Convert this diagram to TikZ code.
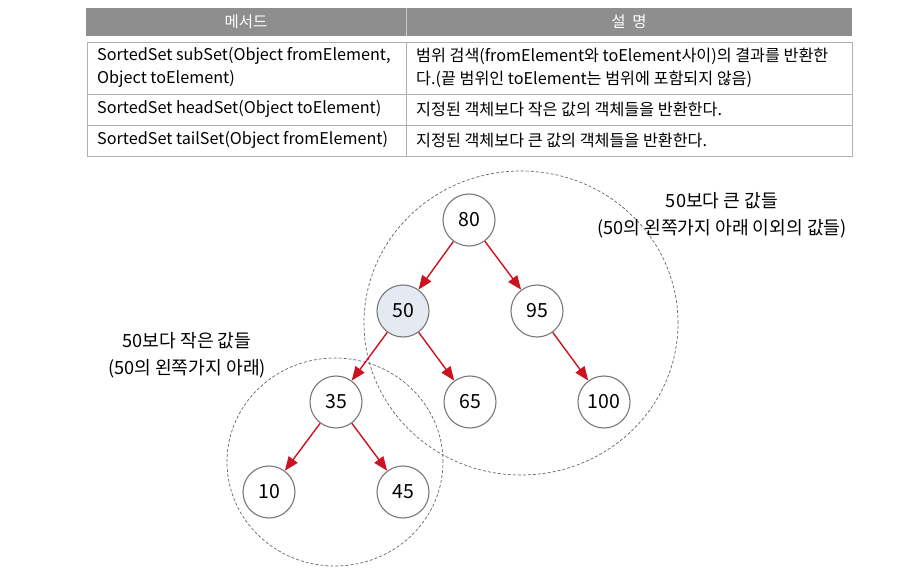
\documentclass[tikz,border=0pt]{standalone}
\usepackage{fontspec}
\setmainfont{Noto Sans CJK KR}
\usetikzlibrary{positioning,arrows.meta,shapes.geometric}
\definecolor{hdrgray}{RGB}{142,142,142}
\definecolor{linegray}{RGB}{175,175,175}
\definecolor{arrred}{RGB}{204,18,32}
\definecolor{selfill}{RGB}{229,233,242}
\definecolor{nodeline}{RGB}{120,120,120}

\begin{document}
\begin{tikzpicture}[x=1pt,y=-1pt,
  num/.style={circle,draw=nodeline,line width=1.1pt,minimum size=52pt,inner sep=0pt,fill=white,font=\fontsize{19.5}{19.5}\selectfont},
  sel/.style={num,fill=selfill},
  edge/.style={-{Triangle[length=14pt,width=11pt]},arrred,line width=1.4pt},
  cell/.style={anchor=west,inner sep=0pt,font=\fontsize{16.2}{16.2}\selectfont},
  grp/.style={ellipse,draw=black!60,dash pattern=on 3pt off 2pt,line width=0.7pt,inner sep=0pt},
  lbl/.style={align=center,font=\fontsize{18.2}{27}\selectfont}]
  \useasboundingbox (0,0) rectangle (908,572);

  % table
  \fill[hdrgray] (86,8) rectangle (852,36);
  \draw[black!20,line width=0.8pt] (406,8) -- (406,36);
  \node[white,font=\fontsize{15.5}{15.5}\selectfont] (hmeth) at (246,22) {메서드};
  \node[white,font=\fontsize{15.5}{15.5}\selectfont] (hdesc) at (629,22) {설\ \ 명};
  \draw[linegray,line width=0.8pt] (87,42) rectangle (852,156);
  \draw[linegray,line width=0.8pt] (87,94) -- (852,94) (87,125) -- (852,125) (406,42) -- (406,156);
  \node[cell] (m1a) at (97,56) {SortedSet subSet(Object fromElement,};
  \node[cell] (m1b) at (97,79) {Object toElement)};
  \node[cell] (m2) at (97,109) {SortedSet headSet(Object toElement)};
  \node[cell] (m3) at (97,140) {SortedSet tailSet(Object fromElement)};
  \node[cell] (d1a) at (416,56) {범위 검색(fromElement와 toElement사이)의 결과를 반환한};
  \node[cell] (d1b) at (416,79) {다.(끝 범위인 toElement는 범위에 포함되지 않음)};
  \node[cell] (d2) at (416,109) {지정된 객체보다 작은 값의 객체들을 반환한다.};
  \node[cell] (d3) at (416,140) {지정된 객체보다 큰 값의 객체들을 반환한다.};

  % groups
  \node[grp,minimum width=314pt,minimum height=304pt] (bigger) at (521,323) {};
  \node[grp,minimum width=216pt,minimum height=208pt] (smaller) at (335,462) {};
  \node[lbl] (lbig) at (722,215) {50보다 큰 값들\\(50의 왼쪽가지 아래 이외의 값들)};
  \node[lbl] (lsmall) at (187,355) {50보다 작은 값들\\(50의 왼쪽가지 아래)};

  % tree
  \node[num] (n80) at (469,220) {80};
  \node[sel] (n50) at (403,311) {50};
  \node[num] (n95) at (537,311) {95};
  \node[num] (n35) at (336,402) {35};
  \node[num] (n65) at (470,402) {65};
  \node[num] (n100) at (604,402) {100};
  \node[num] (n10) at (269,492) {10};
  \node[num] (n45) at (403,492) {45};

  \draw[edge] (n80) -- (n50);
  \draw[edge] (n80) -- (n95);
  \draw[edge] (n50) -- (n35);
  \draw[edge] (n50) -- (n65);
  \draw[edge] (n95) -- (n100);
  \draw[edge] (n35) -- (n10);
  \draw[edge] (n35) -- (n45);
\end{tikzpicture}
\end{document}
